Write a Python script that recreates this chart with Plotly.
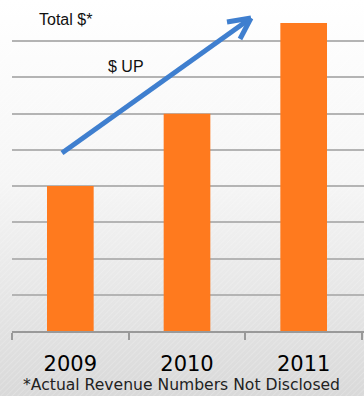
import base64
import plotly.graph_objects as go

# données
years = ["2009", "2010", "2011"]
revenue = [4, 6, 8.5]

W, H = 364, 396
L, R, T, B = 12, 0, 5, 65
pw, ph = W - L - R, H - T - B

def px2paper(x, y):
    return (x - L) / pw, (H - B - y) / ph

# fond dégradé + hachures légères
svg = f"""<svg xmlns='http://www.w3.org/2000/svg' width='{W}' height='{H}'>
<defs>
<linearGradient id='g' x1='0' y1='0' x2='0' y2='1'>
<stop offset='0' stop-color='#ffffff'/><stop offset='0.45' stop-color='#f6f6f6'/>
<stop offset='1' stop-color='#d9d9d9'/></linearGradient>
<pattern id='p' width='4' height='4' patternUnits='userSpaceOnUse' patternTransform='rotate(45)'>
<line x1='0' y1='0' x2='0' y2='4' stroke='#ffffff' stroke-opacity='0.35' stroke-width='1'/></pattern>
</defs>
<rect width='{W}' height='{H}' fill='url(#g)'/>
<rect width='{W}' height='{H}' fill='url(#p)'/>
</svg>"""
bg = "data:image/svg+xml;base64," + base64.b64encode(svg.encode()).decode()

fig = go.Figure()
fig.add_trace(go.Bar(x=years, y=revenue, marker_color="#ff7a1e", marker_line_width=0,
                     width=0.4, hoverinfo="skip"))

x0, y0 = px2paper(0, 0)
fig.add_layout_image(dict(source=bg, xref="paper", yref="paper", x=x0, y=y0,
                          sizex=W / pw, sizey=H / ph, sizing="stretch",
                          xanchor="left", yanchor="top", layer="below"))

# flèche "$ UP"
blue = "#3f7fcf"
tip = px2paper(251, 18)
for a in [(62, 153), (227, 22), (240, 39)]:
    p = px2paper(*a)
    fig.add_shape(type="line", xref="paper", yref="paper", x0=p[0], y0=p[1],
                  x1=tip[0], y1=tip[1], line=dict(color=blue, width=5))

def label(txt, x, y, size, family="Liberation Sans, Arial", color="#111"):
    ax, ay = px2paper(x, y)
    fig.add_annotation(text=txt, xref="paper", yref="paper", x=ax, y=ay,
                       xanchor="center", yanchor="middle", showarrow=False,
                       font=dict(family=family, size=size, color=color))

label("Total $*", 65, 20, 16)
label("$ UP", 126, 66, 16)
label("*Actual Revenue Numbers Not Disclosed", 181, 385, 15.6, "DejaVu Sans", "#222")

fig.update_xaxes(range=[-0.5, 2.517], showgrid=False, showline=True, linecolor="#999",
                 linewidth=1.5, ticks="outside", tickson="boundaries", ticklen=7,
                 tickcolor="#999", tickwidth=1.5, ticklabelstandoff=13,
                 tickfont=dict(family="DejaVu Sans", size=21, color="#000"))
fig.update_yaxes(range=[0, 9], dtick=1, showgrid=True, gridcolor="#b4b4b4", gridwidth=1.5,
                 showticklabels=False, zeroline=False)
fig.update_layout(width=W, height=H, margin=dict(l=L, r=R, t=T, b=B),
                  paper_bgcolor="#e6e6e6", plot_bgcolor="rgba(0,0,0,0)",
                  showlegend=False, bargap=0.6)

fig.write_html("out.html", config={"displayModeBar": False},
               post_script="document.body.style.margin='0';document.body.style.overflow='hidden';")
